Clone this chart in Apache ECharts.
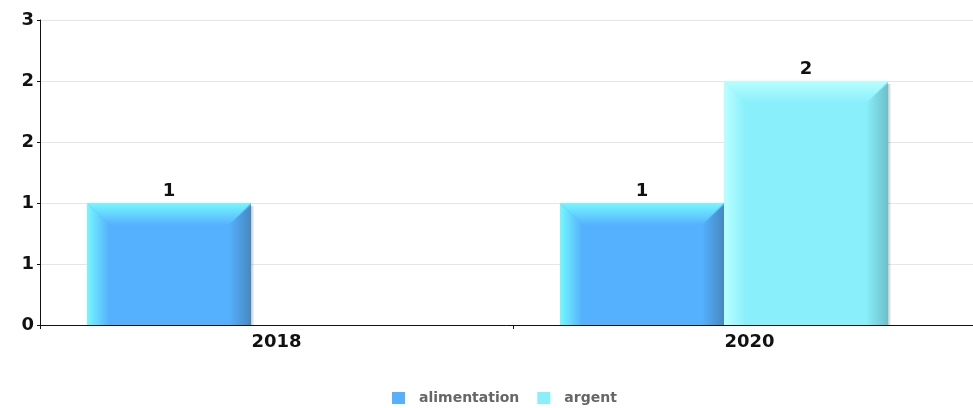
<!DOCTYPE html>
<html>
<head>
<meta charset="utf-8">
<script src="https://cdn.jsdelivr.net/npm/echarts@6/dist/echarts.min.js"></script>
<style>
  html, body { margin: 0; padding: 0; background: #fff; }
  #chart { width: 973px; height: 408px; }
</style>
</head>
<body>
<div id="chart"></div>
<script>
var categories = ['2018', '2020']
var seriesNames = ['alimentation', 'argent']
var alimentation = [1, 1]
var argent = [null, 2]

// bar look, per series: face, light bevel, dark bevel
var palette = [
  { main: '#55b1fd', light: '#74f8ff', dark: '#4688c0' },
  { main: '#89effb', light: '#b8ffff', dark: '#6cbfc9' }
]
// bar start inside a category (in category widths, from its centre) and bar width
var barStart = [-0.401, -0.054]
var barWidth = 0.347
var bevel = 22

var chart = echarts.init(document.getElementById('chart'))

function grad (dir, c1, c2) {
  return dir === 'h'
    ? new echarts.graphic.LinearGradient(0, 0, 1, 0, [{offset: 0, color: c1}, {offset: 1, color: c2}])
    : new echarts.graphic.LinearGradient(0, 0, 0, 1, [{offset: 0, color: c1}, {offset: 1, color: c2}])
}

function renderBar (params, api) {
  var v = api.value(1)
  if (v == null || isNaN(v)) return
  var c = palette[params.seriesIndex]
  var base = api.coord([api.value(0), 0])
  var top = api.coord([api.value(0), v])[1]
  var bottom = base[1]
  var w = api.size([1, 0])[0]
  var x1 = Math.round(base[0] + w * barStart[params.seriesIndex])
  var x2 = Math.round(x1 + w * barWidth)
  var b = Math.min(bevel, (bottom - top) / 2)
  return {
    type: 'group',
    children: [
      {
        type: 'rect',
        shape: {x: x2, y: top + 3, width: 3, height: bottom - top - 3},
        style: {fill: grad('h', 'rgba(0,0,0,0.22)', 'rgba(0,0,0,0.03)')}
      },
      {
        type: 'rect',
        shape: {x: x1, y: top, width: x2 - x1, height: bottom - top, r: [4, 0, 0, 0]},
        style: {fill: c.main}
      },
      {
        type: 'polygon',
        shape: {points: [[x1, top], [x1 + b, top + b], [x1 + b, bottom], [x1, bottom]]},
        style: {fill: grad('h', c.light, c.main)}
      },
      {
        type: 'polygon',
        shape: {points: [[x1, top], [x2, top], [x2 - b, top + b], [x1 + b, top + b]]},
        style: {fill: grad('v', c.light, c.main)}
      },
      {
        type: 'polygon',
        shape: {points: [[x2, top + 2], [x2, bottom], [x2 - b, bottom], [x2 - b, top + b]]},
        style: {fill: grad('h', c.main, c.dark)}
      },
      {
        type: 'text',
        style: {
          text: String(v),
          x: (x1 + x2) / 2,
          y: top - 3,
          align: 'center',
          verticalAlign: 'bottom',
          fontFamily: 'DejaVu Sans',
          fontWeight: 'bold',
          fontSize: 18,
          fill: '#111'
        }
      }
    ]
  }
}

function toData (values) {
  var out = []
  values.forEach(function (v, i) {
    if (v != null) out.push([i, v])
  })
  return out
}

var option = {
  animation: false,
  textStyle: {fontFamily: 'DejaVu Sans'},
  grid: {left: 40, top: 20, right: -13, bottom: 83, outerBoundsMode: 'none', containLabel: false},
  legend: {
    data: seriesNames,
    left: 392,
    top: 391,
    padding: 0,
    icon: 'rect',
    itemWidth: 13,
    itemHeight: 12,
    itemGap: 18,
    textStyle: {
      color: '#666',
      fontWeight: 'bold',
      fontSize: 14,
      fontFamily: 'DejaVu Sans',
      padding: [0, 0, 0, 9]
    }
  },
  xAxis: {
    type: 'category',
    data: categories,
    axisLine: {lineStyle: {color: '#111', width: 1}},
    axisTick: {show: true, length: 4, interval: 0, lineStyle: {color: '#111'}},
    axisLabel: {
      color: '#111',
      fontWeight: 'bold',
      fontSize: 18,
      fontFamily: 'DejaVu Sans',
      margin: 8
    },
    splitLine: {show: false}
  },
  yAxis: {
    type: 'value',
    min: 0,
    max: 2.5,
    interval: 0.5,
    axisLine: {show: true, lineStyle: {color: '#111', width: 1}},
    axisTick: {show: true, length: 3, lineStyle: {color: '#111'}},
    axisLabel: {
      color: '#111',
      fontWeight: 'bold',
      fontSize: 18,
      fontFamily: 'DejaVu Sans',
      margin: 6,
      formatter: function (v) { return Math.round(v) }
    },
    splitLine: {lineStyle: {color: '#e6e6e6', width: 1}}
  },
  series: [
    {
      name: seriesNames[0],
      type: 'custom',
      renderItem: renderBar,
      itemStyle: {color: palette[0].main},
      encode: {x: 0, y: 1},
      data: toData(alimentation)
    },
    {
      name: seriesNames[1],
      type: 'custom',
      renderItem: renderBar,
      itemStyle: {color: palette[1].main},
      encode: {x: 0, y: 1},
      data: toData(argent)
    }
  ]
}
chart.setOption(option)
</script>
</body>
</html>
